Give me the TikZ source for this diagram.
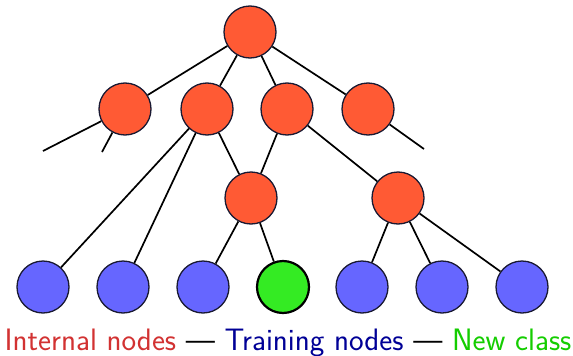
\documentclass[tikz,border=0pt]{standalone}
\usepackage{tikz}
\usetikzlibrary{positioning}
\definecolor{intred}{RGB}{255,90,52}
\definecolor{trainblue}{RGB}{102,102,255}
\definecolor{newgreen}{RGB}{52,235,35}
\definecolor{edgenavy}{RGB}{25,25,50}
\definecolor{txtred}{RGB}{210,50,50}
\definecolor{txtblue}{RGB}{0,0,150}
\definecolor{txtgreen}{RGB}{20,205,0}
\begin{document}
\begin{tikzpicture}[
    x=1pt, y=-1pt,
    treenode/.style={circle, draw=edgenavy, line width=1.3pt, minimum size=52pt, inner sep=0pt},
    internal/.style={treenode, fill=intred},
    training/.style={treenode, fill=trainblue},
    newclass/.style={treenode, fill=newgreen, draw=black, line width=2.2pt},
    branch/.style={line width=1.7pt, black},
]
    \useasboundingbox (0,0) rectangle (573,356);
    % internal nodes
    \node[internal] (root) at (250,32) {};
    \node[internal] (a) at (125,109) {};
    \node[internal] (b) at (207,109) {};
    \node[internal] (c) at (287,109) {};
    \node[internal] (d) at (368,109) {};
    \node[internal] (e) at (251,198) {};
    \node[internal] (f) at (398,198) {};
    % leaves
    \node[training] (l1) at (43,287) {};
    \node[training] (l2) at (123,287) {};
    \node[training] (l3) at (203,287) {};
    \node[newclass] (l4) at (283,287) {};
    \node[training] (l5) at (362,287) {};
    \node[training] (l6) at (442,287) {};
    \node[training] (l7) at (522,287) {};
    % loose ends
    \coordinate (a1) at (43,151);
    \coordinate (a2) at (102,152);
    \coordinate (d1) at (424,149);
    \draw[branch] (root) -- (a);
    \draw[branch] (root) -- (b);
    \draw[branch] (root) -- (c);
    \draw[branch] (root) -- (d);
    \draw[branch] (a) -- (a1);
    \draw[branch] (a) -- (a2);
    \draw[branch] (d) -- (d1);
    \draw[branch] (b) -- (l1);
    \draw[branch] (b) -- (l2);
    \draw[branch] (b) -- (e);
    \draw[branch] (c) -- (e);
    \draw[branch] (c) -- (f);
    \draw[branch] (e) -- (l3);
    \draw[branch] (e) -- (l4);
    \draw[branch] (f) -- (l5);
    \draw[branch] (f) -- (l6);
    \draw[branch] (f) -- (l7);
    \node[font=\fontsize{31}{36}\selectfont\sffamily, inner sep=0pt, anchor=base] (legend) at (288,350) {%
        \textcolor{txtred}{Internal nodes} --- \textcolor{txtblue}{Training nodes} --- \textcolor{txtgreen}{New class}};
\end{tikzpicture}
\end{document}
